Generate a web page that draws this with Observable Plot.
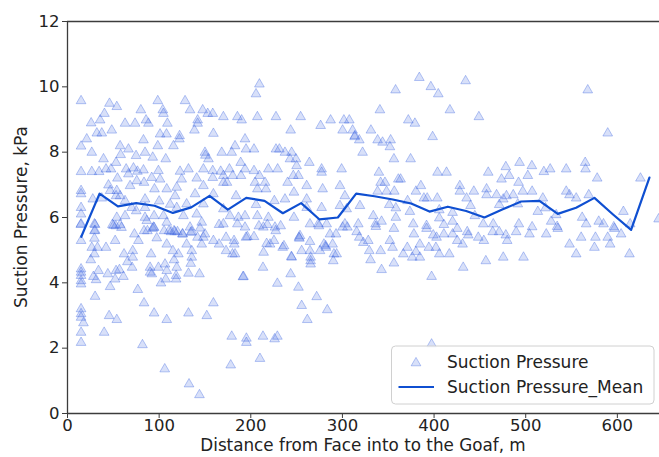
<!DOCTYPE html>
<html>
<head>
<meta charset="utf-8">
<script src="https://cdn.jsdelivr.net/npm/d3@7"></script>
<script src="https://cdn.jsdelivr.net/npm/@observablehq/plot@0.6"></script>
<style>
  html, body { margin: 0; padding: 0; background: #fff; }
  #chart { width: 659px; height: 457px; }
</style>
</head>
<body>
<div id="chart"></div>
<script>
// ---- data ----
const seriesNames = ["Suction Pressure", "Suction Pressure_Mean"];
const xLabel = "Distance from Face into to the Goaf, m";
const yLabel = "Suction Pressure, kPa";
const xTicks = [0, 100, 200, 300, 400, 500, 600];
const yTicks = [0, 2, 4, 6, 8, 10, 12];

// scatter points: [distance m, pressure kPa]
const scatterPoints = [
[14.8,9.57],[45.8,9.49],[53.8,9.39],[40.3,9.18],[35.6,8.98],[25.8,8.89],[48.3,8.67],[32,8.58],[37.4,8.58],[21,8.4],[14.8,8.18],[26.5,7.99],[39.3,7.79],[53,7.68],[14.8,7.4],[26.5,7.4],[34.5,7.4],[42,7.48],[47.5,7.48],[54.5,7.2],[44.7,6.99],[14.8,6.82],[14.8,6.72],[27.6,6.56],[37.4,6.59],[46.5,6.82],[53.8,6.82],[14.8,6.3],[14.8,6.1],[14.8,5.8],[29.4,5.8],[57.4,8.19],[58,7.92],
[62.8,8.88],[73.7,8.88],[80,9.29],[85.7,8.98],[88.3,8.88],[82.9,8.37],[66.5,8.09],[74.8,7.89],[84.6,7.99],[64,7.48],[72,7.51],[76.3,7.41],[82.9,7.45],[66.5,7.33],[75.6,7.12],[68.3,6.97],[83.5,7.07],[91.9,7.22],[101,7.17],[93,7.84],[99.2,7.43],[98.5,8.19],[104,9.29],[104.7,9.18],[98.5,9.57],[109,8.88],[101,8.55],[108,8.55],[107.2,7.79],[115.6,8.19],[122.1,8.4],[122.3,8.5],[128.3,9.57],[133.7,9.29],[147.5,9.29],[153,9.18],[158.5,9.18],[142,8.98],[142,8.88],[138.5,8.67],[159.2,8.57],[150,7.99],[150.5,7.9],[153.8,7.79],[132,7.48],[122.8,7.41],[148.3,7.48],[158.5,7.43],[141,7.2],[158.5,7.22],[119.2,6.92],[124.6,7.17],[108.3,6.87],[117.4,6.66],[94.9,6.87],[84.6,6.56],[148.3,6.97],[139.2,6.72],[159.2,6.72],[53,6.66],[57.4,6.66],[62.8,6.51],[84.6,6.3],
[53.8,6.0],[62.8,6.05],[57.4,5.78],[50.2,5.75],[84.6,6.0],[94.5,6.05],[86.5,5.9],[93.8,5.7],[104.7,6.05],[108.3,5.85],[126.5,6.05],[141,6.1],[146.5,5.85],[119.2,6.3],[130,6.41],[148.3,6.41],[133.7,5.7],[70,6.3],[100,6.5],[112,6.4],[75,6.2],
[14.8,5.29],[29.4,5.59],[29.4,5.36],[26.5,5.08],[32.7,5.08],[42,5.08],[29.4,4.88],[25.4,4.7],[14.8,4.42],[14.8,4.32],[14.8,4.22],[14.8,4.06],[14.8,3.96],[28.3,4.19],[31.2,4.09],[33.8,4.37],[44,4.27],[53,4.37],[52,4.11],[56.7,4.4],[61,4.19],[46.5,3.88],[30.1,3.58],[14.8,3.2],[14.8,3.05],[14.8,2.94],[17.4,2.77],[45.4,2.99],[53.8,2.87],[14.8,2.48],[40,2.48],[14.8,2.17],[52,5.29],[61.7,4.88],[71.2,4.98],[71.2,4.78],[65.4,4.64],[70.5,4.47],[73,5.49],[77.4,5.29],[83.5,5.59],[93,5.66],[97.4,5.37],[108.3,5.18],[91.2,4.88],[90.1,4.47],[90.1,4.32],[92,4.27],[99.2,4.47],[106.4,4.57],[108.3,4.37],[102,3.99],[107.2,4.11],[118.5,4.11],[118.5,4.22],[116.3,4.7],[115,4.98],[121,4.88],[119.2,4.47],[132,4.29],[135.6,4.98],[135.6,4.78],[134.5,4.59],[130,5.18],[144,4.27],[146.5,5.18],[141.8,5.39],[148.3,5.39],[113,5.56],[117,5.56],[120,5.56],[125.7,5.49],[135.6,5.56],[76.7,3.79],[83.5,3.38],[94.5,3.07],[108.3,2.87],[132,3.07],[152,2.99],[159.2,3.38],[81.8,2.1],[106.1,1.36],[132.6,0.9],[144,0.57],[159.2,5.29],
[179.2,2.36],[178.1,1.48],[191.5,4.18],[195.2,2.3],[195.2,2.17],[210,1.68],[213.3,2.36],[226,2.28],[229,2.36],[229,3.98],[213.3,4.47],[243.5,4.27],[244.3,4.8],[252,3.86],[255.5,3.3],[261.7,2.87],[271.9,3.57],[283.5,3.17],[253.7,5.44],[255.5,4.98],[264.6,5.26],[265.3,4.67],[265.3,4.57],[275.5,4.98],[281.7,5.13],[225.3,5.29],[217.3,5.2],[214,4.93],[236.2,5.13],[203.5,5.41],[196.3,5.41],[181.7,5.29],[173,5.39],[182.8,4.88],[173,4.98],[165.4,5.18],
[14.5,5.78],[30.1,5.78],[30.1,5.6],[49,5.78],[52.7,5.74],[58.9,5.69],[87.2,5.59],[94.5,5.69],[105.4,5.59],[110.8,5.59],[116.3,5.59],[125.4,5.49],[134.5,5.54],[144.6,5.67],[150,5.49],[165.4,5.78],[208.9,5.74],[218.1,5.78],[227.2,5.59],[232.6,5.74],[252.6,5.39],[274.4,5.74],
[180,4.88],[182,5.18],[194.8,5.39],[192,4.19],[221,5.18],[234.8,5.08],[244.6,4.78],[264.6,4.98],[265.3,4.78],[279.8,5.18],[282,5.08],[290,4.67],[293.7,4.88],[289.3,5.18],[286.4,5.49],[293,5.49],[226.4,5.7],[253,5.36],[300.2,5.7],[305.4,5.7],[315.5,5.56],[318.4,5.39],[322.8,5.23],
[209.4,10.08],[205.7,9.78],[170.1,9.08],[185.4,9.08],[190,8.98],[207.2,9.08],[227.5,9.08],[254.4,9.08],[243.5,8.67],[276.2,8.81],[287.1,8.98],[301.6,8.98],[307.5,8.98],[300.2,8.67],[311.1,8.67],[313.6,8.5],[318.4,8.37],[322,7.99],[193.7,8.4],[182.8,8.19],[194.8,8.09],[203.5,8.09],[227.5,8.09],[231.2,8.09],[237.3,7.99],[244.6,7.99],[249.3,7.79],[242.8,7.79],[179.2,7.99],[168.3,7.99],[189,7.68],[176.7,7.48],[193.7,7.48],[167.2,7.41],[170.1,7.28],[180.3,7.28],[189.3,7.28],[203.5,7.43],[209.4,7.28],[219.2,7.48],[229.3,7.48],[250,7.58],[246.4,7.28],[252,7.28],[263.9,7.68],[277.3,7.48],[277.3,7.38],[299.1,7.48],[170.1,7.07],[174,7.07],[204.6,7.07],[215.5,7.07],[240.2,7.07],[261,6.97],[207.2,6.87],[216.6,6.87],[247.1,6.77],[278.4,6.87],[297.3,6.97],[302.7,6.66],[183.9,6.66],[261,6.56],[237.3,6.56],[225.7,6.51],[205.7,6.39],[170.1,6.26],[177.3,6.05],[186.5,6.0],[193.7,6.05],[207.2,6.05],[219.2,6.0],[247.1,6.0],[261,6.3],[277.3,6.3],[297.3,6.36],[304.6,6.26],[319.1,6.36],[264.6,5.8],[273.7,5.8],[282.8,5.8],[302.7,5.8],[317.3,5.8],[193.7,5.7],[213.7,5.7],[170.1,5.8],[185.4,5.8],
[383.9,10.28],[434.4,10.18],[358,9.9],[396.5,10.0],[404.6,9.78],[340.9,9.29],[417.3,9.29],[448.9,9.08],[371.9,8.98],[379.1,8.88],[331.1,8.67],[398.4,8.47],[338.4,8.37],[343.8,8.3],[352.6,8.37],[351.8,8.16],[356.2,7.79],[374.4,7.79],[339.8,7.38],[403.8,7.38],[413.6,7.38],[459.1,7.38],[478.3,7.55],[482,7.28],[361,7.17],[363.5,7.17],[473.6,7.17],[341.7,7.07],[346.4,7.07],[385.6,6.97],[428.1,6.97],[457.3,6.87],[338.4,6.8],[348.2,6.8],[356.6,6.8],[380.2,6.8],[428.1,6.8],[443.4,6.8],[457.3,6.69],[468.2,6.69],[479,6.66],[388.9,6.59],[392.5,6.59],[403.5,6.59],[435.5,6.59],[475.5,6.56],[486.4,6.69],[371.1,6.51],[351.1,6.39],[358.3,6.29],[373.6,6.18],[405.7,6.23],[420.2,6.15],[439.8,6.36],[444.5,6.05],[471.1,6.39],[333.7,6.05],[358.3,6.0],[336.2,5.8],[342.7,5.88],[377.3,5.8],[391.8,5.75],[405.7,5.98],[410.7,5.78],[420.2,5.88],[453.7,5.8],[464.6,5.8],[313.3,8.47],
[567.7,9.9],[589.5,8.58],[493.3,7.68],[506.7,7.58],[519.8,7.4],[526.7,7.48],[544.2,7.48],[564.9,7.68],[565.3,7.48],[578,7.2],[625.2,7.2],[492.2,7.07],[502.3,7.28],[496.8,6.8],[507,6.8],[518.7,6.59],[544.2,6.8],[547.8,6.69],[555.1,6.59],[568.8,6.69],[491.4,6.41],[513.2,6.18],[521.6,6.29],[533.3,6.08],[527.8,5.88],[534.3,5.72],[561.6,6.0],[566,5.8],[579.7,5.88],[584.9,5.8],[606.6,6.18],[596.1,5.71],[614,5.8],[492.5,5.8],[507,5.71],[645,5.95],
[336.5,5.72],[356.2,5.66],[378,5.49],[391.8,5.66],[399.1,5.46],[402.7,5.39],[410.7,5.49],[420.2,5.49],[425.3,5.66],[436.2,5.56],[437.3,5.46],[425.3,5.29],[431.1,5.18],[448.2,5.39],[454.3,5.29],[464,5.56],[471.1,5.56],[478.3,5.46],[479.8,5.29],[328.2,5.29],[329.3,4.98],[330.7,4.7],[341.7,4.98],[351.8,5.29],[354.7,5.08],[356.2,4.6],[342.7,4.4],[366.4,4.88],[370.8,5.08],[376.2,4.78],[380.2,4.95],[384.5,4.78],[384.5,5.18],[394.3,5.08],[402,5.08],[405.7,4.88],[416.6,4.88],[397.3,4.19],[431.8,4.47],[456.5,4.67],[475.5,4.78],[397.3,2.12],
[489.6,5.56],[504.1,5.49],[522.4,5.49],[535,5.66],[547.8,5.18],[560.5,5.39],[576.1,5.39],[575,5.08],[589.5,5.39],[592.1,5.18],[604.1,5.49],[596.8,5.66],[555.1,4.88],[497.6,4.78],[613.2,4.88],[290.7,4.88]
];

// mean line
const meanDistance = [15,35,55,75,95,115,135,155,175,195,215,235,255,275,295,315,335,355,375,395,415,435,455,475,495,515,535,555,575,595,615,635];
const meanPressure = [5.41,6.73,6.34,6.44,6.36,6.14,6.31,6.66,6.24,6.6,6.51,6.13,6.44,5.94,6.0,6.73,6.65,6.55,6.43,6.18,6.33,6.2,6.0,6.25,6.49,6.51,6.11,6.3,6.6,6.1,5.62,7.22];

// ---- build tables ----
const scatter = scatterPoints.map(([d, p]) => ({d, p}));
const mean = meanDistance.map((d, i) => ({d, p: meanPressure[i]}));

const scatterColor = "#3a64e0";
const lineColor = "#0f4fd1";
const spine = "#3c3c3c";
const font = "'DejaVu Sans', sans-serif";

const plot = Plot.plot({
  width: 659,
  height: 457,
  marginLeft: 67,
  marginRight: 0,
  marginTop: 21,
  marginBottom: 44,
  style: {fontFamily: font, fontSize: "16.5px", color: "#222", background: "#fff", overflow: "hidden"},
  x: {domain: [0, 646]},
  y: {domain: [0, 12]},
  marks: [
    Plot.dot(scatter, {x: "d", y: "p", symbol: "triangle", r: 3.6,
      fill: scatterColor, fillOpacity: 0.2, stroke: scatterColor, strokeOpacity: 0.36, strokeWidth: 1, clip: true}),
    Plot.line(mean, {x: "d", y: "p", stroke: lineColor, strokeWidth: 2.2, clip: true}),
    Plot.ruleX([0], {stroke: spine, strokeWidth: 1.3}),
    Plot.ruleY([0, 12], {stroke: spine, strokeWidth: 1.3}),
    Plot.axisX({ticks: xTicks, tickSize: 5, tickPadding: 1, label: null, stroke: spine, tickFormat: d => String(d)}),
    Plot.axisY({ticks: yTicks, tickSize: 5, tickPadding: 3, label: null, stroke: spine, tickFormat: d => String(d)})
  ]
});

document.getElementById("chart").appendChild(plot);

// ---- axis titles and legend ----
const svg = d3.select(plot);
const W = 659, H = 457, mL = 67, mT = 21, mB = 44;
svg.append("text")
  .attr("x", (mL + W) / 2).attr("y", 451)
  .attr("text-anchor", "middle")
  .style("font-family", font).style("font-size", "16.8px").attr("fill", "#222")
  .text(xLabel);
svg.append("text")
  .attr("transform", `translate(21,${(mT + H - mB) / 2}) rotate(-90)`)
  .attr("text-anchor", "middle").attr("dy", "0.35em")
  .style("font-family", font).style("font-size", "17px").attr("fill", "#222")
  .text(yLabel);

const lg = svg.append("g");
lg.append("rect")
  .attr("x", 391.5).attr("y", 346).attr("width", 262.5).attr("height", 58).attr("rx", 4)
  .attr("fill", "#fff").attr("fill-opacity", 0.85).attr("stroke", "#d0d0d0").attr("stroke-width", 1);
lg.append("path")
  .attr("d", d3.symbol(d3.symbolTriangle, 3.6 * 3.6 * Math.PI)())
  .attr("transform", "translate(416,363)")
  .attr("fill", scatterColor).attr("fill-opacity", 0.2)
  .attr("stroke", scatterColor).attr("stroke-opacity", 0.36);
lg.append("line")
  .attr("x1", 398.5).attr("x2", 434).attr("y1", 387).attr("y2", 387)
  .attr("stroke", lineColor).attr("stroke-width", 2.2);
[[seriesNames[0], 362], [seriesNames[1], 387]].forEach(([t, y]) => {
  lg.append("text").attr("x", 447).attr("y", y).attr("dy", "0.35em")
    .attr("text-anchor", "start")
    .style("font-family", font).style("font-size", "17px").attr("fill", "#222")
    .text(t);
});
</script>
</body>
</html>
